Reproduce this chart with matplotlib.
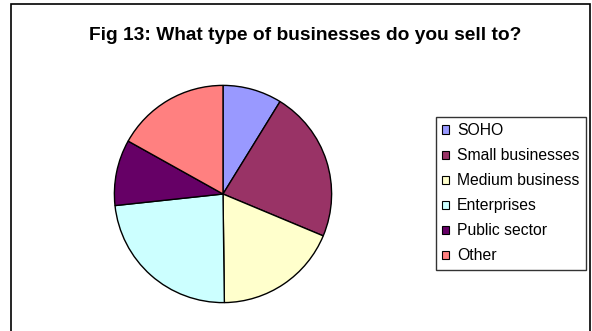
import matplotlib
matplotlib.use("Agg")
import matplotlib.pyplot as plt
from matplotlib.patches import Rectangle, Patch

plt.rcParams['font.family'] = ['Liberation Sans', 'DejaVu Sans']

categories = ["SOHO", "Small businesses", "Medium business", "Enterprises", "Public sector", "Other"]
values = [8.8, 22.5, 18.5, 23.5, 9.8, 16.9]
colors = ["#9999FF", "#993366", "#FFFFCC", "#CCFFFF", "#660066", "#FF8080"]
title = "Fig 13: What type of businesses do you sell to?"

W, H = 592, 331
fig = plt.figure(figsize=(W / 100, H / 100), dpi=100)
fig.patch.set_facecolor("white")

# chart area border
fig.add_artist(Rectangle((10.5 / W, -0.05), 579 / W, (H - 4) / H + 0.05,
                         transform=fig.transFigure, fill=False,
                         edgecolor="black", linewidth=1.2, clip_on=False))

fig.text(305 / W, 1 - 35 / H, title, ha="center", va="center",
         fontsize=13.8, fontweight="bold")

cx, cy, r = 223, 194, 109.7
ax = fig.add_axes([(cx - r) / W, (H - cy - r) / H, 2 * r / W, 2 * r / H])
ax.pie(values, colors=colors, startangle=90, counterclock=False,
       wedgeprops=dict(edgecolor="black", linewidth=1.0), radius=1)
ax.set_xlim(-1.01, 1.01)
ax.set_ylim(-1.01, 1.01)
ax.set_aspect("auto")
ax.axis("off")

handles = [Patch(facecolor=c, edgecolor="black", linewidth=0.8) for c in colors]
leg = fig.legend(handles, categories, loc="upper right",
                 bbox_to_anchor=(586 / W, 1 - 117 / H), bbox_transform=fig.transFigure,
                 fontsize=11.3, frameon=True, fancybox=False, shadow=False,
                 handlelength=0.45, handleheight=0.45, handletextpad=0.5,
                 labelspacing=0.64, borderpad=0.4, borderaxespad=0)
leg.get_frame().set_edgecolor("black")
leg.get_frame().set_linewidth(1.0)

fig.savefig("out.png", dpi=100)
